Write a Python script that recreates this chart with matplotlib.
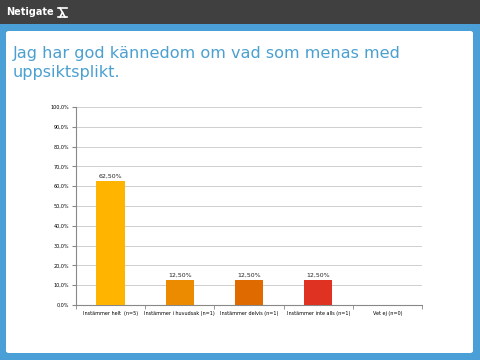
import matplotlib
matplotlib.use("Agg")
import matplotlib.pyplot as plt
from matplotlib.patches import Rectangle, FancyBboxPatch
from matplotlib.lines import Line2D
import numpy as np

categories = ["Instämmer helt  (n=5)", "Instämmer i huvudsak (n=1)", "Instämmer delvis (n=1)",
              "Instämmer inte alls (n=1)", "Vet ej (n=0)"]
values = [62.5, 12.5, 12.5, 12.5, 0.0]
colors = ["#FFB400", "#EC8A00", "#DF6A00", "#DF3222", "#999999"]
yticks = list(range(0, 101, 10))
title = "Jag har god kännedom om vad som menas med\nuppsiktsplikt."

fig = plt.figure(figsize=(4.8, 3.6), dpi=100)
fig.patch.set_facecolor("#4A9FD6")

# header bar and white panel
fig.add_artist(Rectangle((0, 1 - 24 / 360), 1, 24 / 360, transform=fig.transFigure,
                         facecolor="#404040", edgecolor="none", zorder=0))
fig.add_artist(FancyBboxPatch((6 / 480, 7 / 360), 467 / 480, 322 / 360,
                              boxstyle="round,pad=0,rounding_size=0.006",
                              transform=fig.transFigure, facecolor="white",
                              edgecolor="none", zorder=0))
fig.text(6 / 480, 1 - 12 / 360, "Netigate", color="white", fontsize=7,
         fontweight="bold", va="center", ha="left")
# logo mark (drawn as a shape)
lx0, lx1, ly0, ly1 = 58 / 480, 67 / 480, 1 - 17 / 360, 1 - 8 / 360
for xs, ys in [([lx0, lx1], [ly1, ly1]), ([lx0, lx1], [ly0, ly0]),
               ([lx0 + 2 / 480, lx1 - 2 / 480], [ly1, ly0]),
               ([lx0 + 2 / 480, 62.5 / 480], [ly0, 1 - 12.5 / 360])]:
    fig.add_artist(Line2D(xs, ys, transform=fig.transFigure, color="white", lw=1.2))

fig.text(13 / 480, 1 - 46 / 360, title, color="#4BA0D0", fontsize=11.6,
         va="top", ha="left", linespacing=1.3)

ax = fig.add_axes([76 / 480, 55 / 360, 346 / 480, 198 / 360])
x = np.arange(len(categories))
bars = ax.bar(x, values, width=0.41, color=colors, zorder=3)
for xi, v in zip(x, values):
    if v > 0:
        ax.text(xi, v + 1.5, f"{v:.2f}%".replace(".", ","), ha="center", va="bottom",
                fontsize=4.5, color="#222222")

ax.set_xlim(-0.5, len(categories) - 0.5)
ax.set_ylim(0, 100)
ax.set_yticks(yticks)
ax.set_yticklabels([f"{t},0%" for t in yticks], fontsize=3.5)
ax.set_xticks(x)
ax.set_xticklabels(categories, fontsize=3.5)
ax.set_xticks(np.arange(-0.5, len(categories)), minor=True)
ax.tick_params(axis="x", which="major", length=0, pad=4)
ax.tick_params(axis="x", which="minor", length=3, color="#888888", direction="out")
ax.tick_params(axis="y", length=3, color="#888888", pad=2)
ax.grid(axis="y", color="#C8C8C8", lw=0.6, zorder=0)
for s in ["top", "right"]:
    ax.spines[s].set_visible(False)
for s in ["left", "bottom"]:
    ax.spines[s].set_color("#888888")
    ax.spines[s].set_linewidth(0.8)

plt.savefig("out.png", dpi=100)
